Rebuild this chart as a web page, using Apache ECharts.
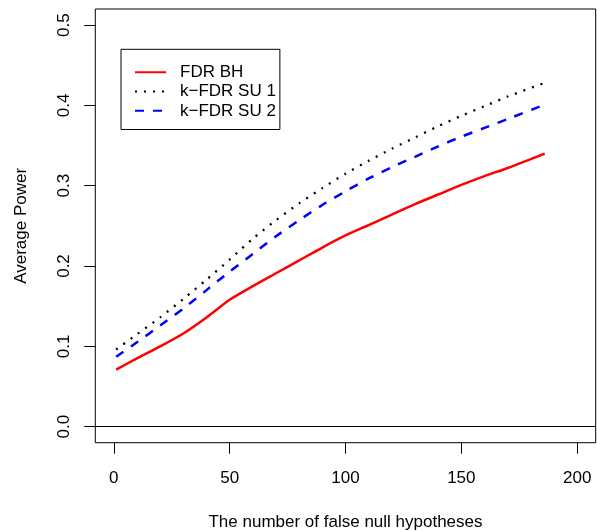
<!DOCTYPE html>
<html><head><meta charset="utf-8">
<script src="https://cdn.jsdelivr.net/npm/echarts@6/dist/echarts.min.js"></script>
<style>html,body{margin:0;padding:0;background:#fff}#c{width:597px;height:531px}</style>
</head><body><div id="c"></div>
<script>
const xValues = [1, 10, 20, 30, 40, 50, 60, 70, 80, 90, 100, 110, 120, 130, 140, 150, 160, 170, 186];
const fdrBH   = [0.071, 0.085, 0.100, 0.116, 0.136, 0.158, 0.175, 0.191, 0.207, 0.223, 0.238, 0.251, 0.264, 0.277, 0.289, 0.301, 0.312, 0.322, 0.340];
const kfdrSU1 = [0.096, 0.115, 0.136, 0.159, 0.183, 0.208, 0.234, 0.257, 0.278, 0.297, 0.315, 0.331, 0.346, 0.360, 0.374, 0.387, 0.399, 0.411, 0.428];
const kfdrSU2 = [0.087, 0.105, 0.126, 0.147, 0.170, 0.193, 0.215, 0.237, 0.257, 0.276, 0.293, 0.309, 0.323, 0.336, 0.349, 0.361, 0.372, 0.383, 0.401];
const xTicks = [0, 50, 100, 150, 200];
const yTicks = [0, 0.1, 0.2, 0.3, 0.4, 0.5];
const seriesNames = ['FDR BH', 'k\u2212FDR SU 1', 'k\u2212FDR SU 2'];
const xTitle = 'The number of false null hypotheses';
const yTitle = 'Average Power';

const FONT = 'Liberation Sans, Arial, Helvetica, sans-serif';
const FS = 17;
const pairs = ys => xValues.map((x, i) => [x, ys[i]]);

const chart = echarts.init(document.getElementById('c'), null, {renderer: 'canvas'});
chart.setOption({
  animation: false,
  backgroundColor: '#fff',
  grid: {left: 95.3, right: 1.3, top: 9, bottom: 88.3, show: true, borderColor: '#000', borderWidth: 1,
    backgroundColor: 'transparent', containLabel: false, outerBoundsMode: 'none'},
  xAxis: {
    type: 'value', min: -8, max: 208,
    axisLine: {show: false, onZero: false},
    splitLine: {show: false},
    axisTick: {show: true, customValues: xTicks, length: 11, lineStyle: {color: '#000', width: 1}},
    axisLabel: {customValues: xTicks, margin: 27, color: '#000', fontSize: FS, fontFamily: FONT},
    name: xTitle, nameLocation: 'middle', nameGap: 71,
    nameTextStyle: {color: '#000', fontSize: FS, fontFamily: FONT}
  },
  yAxis: {
    type: 'value', min: -0.02, max: 0.52,
    axisLine: {show: false, onZero: false},
    splitLine: {show: false},
    axisTick: {show: true, customValues: yTicks, length: 11, lineStyle: {color: '#000', width: 1}},
    axisLabel: {customValues: yTicks, rotate: 90, margin: 22, color: '#000', fontSize: FS, fontFamily: FONT,
      formatter: v => Number(v).toFixed(1)},
    name: yTitle, nameLocation: 'middle', nameGap: 65,
    nameTextStyle: {color: '#000', fontSize: FS, fontFamily: FONT}
  },
  legend: {
    orient: 'vertical', left: 121, top: 49.3,
    padding: [13.3, 4, 9, 13],
    itemWidth: 31, itemHeight: 19.3, itemGap: 0,
    borderColor: '#000', borderWidth: 1, borderRadius: 0,
    backgroundColor: '#fff',
    selectedMode: false,
    itemStyle: {opacity: 0},
    textStyle: {fontSize: FS, fontFamily: FONT, color: '#000', padding: [0, 0, 0, 9], lineHeight: 19.3},
    data: seriesNames
  },
  series: [
    {name: seriesNames[0], type: 'line', data: pairs(fdrBH), symbol: 'none', showSymbol: false, silent: true,
      smooth: 0.25,
      lineStyle: {color: '#ff0000', width: 2.5, type: 'solid'}, itemStyle: {color: '#ff0000'},
      markLine: {silent: true, symbol: ['none', 'none'], label: {show: false},
        lineStyle: {color: '#000', width: 1, type: 'solid'}, data: [{yAxis: 0}]}},
    {name: seriesNames[1], type: 'line', data: pairs(kfdrSU1), symbol: 'none', showSymbol: false, silent: true,
      smooth: 0.25,
      lineStyle: {color: '#000', width: 2.3, type: [2, 7], cap: 'butt'}, itemStyle: {color: '#000'}},
    {name: seriesNames[2], type: 'line', data: pairs(kfdrSU2), symbol: 'none', showSymbol: false, silent: true,
      smooth: 0.25,
      lineStyle: {color: '#0000ff', width: 2.5, type: [9, 9], cap: 'butt'}, itemStyle: {color: '#0000ff'}}
  ]
});
</script></body></html>
